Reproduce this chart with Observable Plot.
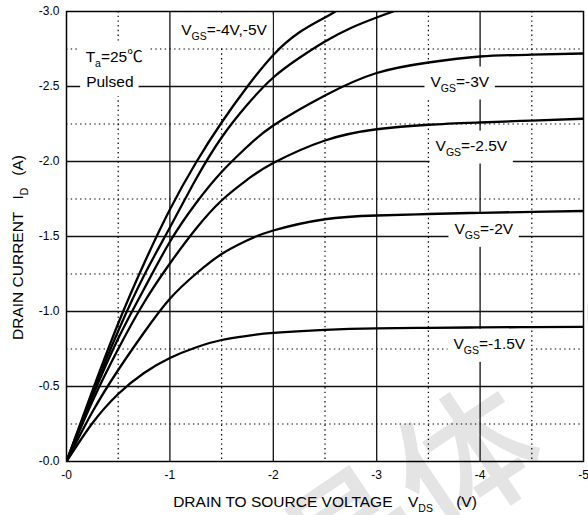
<!DOCTYPE html>
<html>
<head>
<meta charset="utf-8">
<script src="https://cdn.jsdelivr.net/npm/d3@7"></script>
<script src="https://cdn.jsdelivr.net/npm/@observablehq/plot@0.6"></script>
<style>
  body { margin: 0; background: #fff; }
  svg { display: block; }
</style>
</head>
<body>
<div id="chart"></div>
<script>
// ---- axes ----
const xTicks = [0, -1, -2, -3, -4, -5];
const yTicks = [0, -0.5, -1, -1.5, -2, -2.5, -3];
const xMajor = [-1, -2, -3, -4];
const yMajor = [-0.5, -1, -1.5, -2, -2.5];
const xMinor = [-0.5, -1.5, -2.5, -3.5, -4.5];
const yMinor = [-0.25, -0.75, -1.25, -1.75, -2.25, -2.75];

// ---- series (VDS in V, ID in A) ----
const vdsSat = [0, -0.25, -0.5, -0.75, -1, -1.25, -1.5, -1.75, -2, -2.5, -3, -3.5, -4, -4.5, -5];
const id_15 = [0, -0.255, -0.45, -0.59, -0.69, -0.76, -0.81, -0.838, -0.857, -0.877, -0.887, -0.891, -0.894, -0.896, -0.898];
const id_20 = [0, -0.33, -0.61, -0.86, -1.085, -1.25, -1.383, -1.475, -1.54, -1.615, -1.64, -1.65, -1.658, -1.664, -1.67];
const id_25 = [0, -0.40, -0.75, -1.06, -1.32, -1.55, -1.74, -1.88, -1.99, -2.14, -2.215, -2.245, -2.26, -2.273, -2.285];
const id_30 = [0, -0.43, -0.82, -1.15, -1.465, -1.72, -1.93, -2.10, -2.24, -2.44, -2.59, -2.66, -2.70, -2.712, -2.72];
const vds_40 = [0, -0.25, -0.5, -0.75, -1, -1.25, -1.5, -1.75, -2, -2.25, -2.5, -2.75, -3, -3.16];
const id_40 = [0, -0.45, -0.87, -1.24, -1.56, -1.88, -2.16, -2.38, -2.56, -2.69, -2.80, -2.89, -2.96, -3.0];
const vds_50 = [0, -0.25, -0.5, -0.75, -1, -1.25, -1.5, -1.75, -2, -2.25, -2.5, -2.6];
const id_50 = [0, -0.47, -0.92, -1.32, -1.68, -1.99, -2.26, -2.50, -2.71, -2.86, -2.96, -3.0];

// ---- annotations ----
const labelText = ["V_{GS}=-4V,-5V", "T_{a}=25\u2103", "Pulsed", "V_{GS}=-3V", "V_{GS}=-2.5V", "V_{GS}=-2V", "V_{GS}=-1.5V"];
const labelX = [-1.109, -0.185, -0.19, -3.52, -3.569, -3.752, -3.743];
const labelY = [-2.845, -2.662, -2.495, -2.50, -2.073, -1.518, -0.751];
const xTitle = "DRAIN TO SOURCE VOLTAGE\u2003V_{DS}\u2003\u2002(V)";
const yTitle = "DRAIN CURRENT\u2002\u00A0I_{D}\u2002\u00A0(A)";
const watermark = "晶体（";

// build table
const series = [
  {vgs: "-1.5V", vds: vdsSat, id: id_15},
  {vgs: "-2V", vds: vdsSat, id: id_20},
  {vgs: "-2.5V", vds: vdsSat, id: id_25},
  {vgs: "-3V", vds: vdsSat, id: id_30},
  {vgs: "-4V", vds: vds_40, id: id_40},
  {vgs: "-5V", vds: vds_50, id: id_50}
];
const rows = series.flatMap(s => s.vds.map((v, i) => ({vgs: s.vgs, vds: v, id: s.id[i]})));
const labels = labelText.map((t, i) => ({t, x: labelX[i], y: labelY[i]}));

const fx = d => d === 0 ? "-0" : String(d);
const fy = d => d === 0 ? "-0.0" : d.toFixed(1);
const FONT = "'Liberation Sans', Arial, 'Noto Sans CJK SC', sans-serif";

const chart = Plot.plot({
  width: 588,
  height: 515,
  marginLeft: 66,
  marginRight: 5,
  marginTop: 11,
  marginBottom: 54,
  style: {fontFamily: FONT, fontSize: "12px", background: "#fff", color: "#000", overflow: "visible"},
  x: {domain: [0, -5]},
  y: {domain: [0, -3]},
  marks: [
    Plot.ruleX(xMinor, {stroke: "#000", strokeWidth: 1.2, strokeDasharray: "1.4,3.3"}),
    Plot.ruleY(yMinor, {stroke: "#000", strokeWidth: 1.2, strokeDasharray: "1.4,3.3"}),
    Plot.ruleX(xMajor, {stroke: "#111", strokeWidth: 1.3}),
    Plot.ruleY(yMajor, {stroke: "#111", strokeWidth: 1.3}),
    Plot.line(rows, {x: "vds", y: "id", z: "vgs", curve: "natural", stroke: "#000", strokeWidth: 2.3, clip: true}),
    Plot.text(labels, {x: "x", y: "y", text: "t", textAnchor: "start", lineAnchor: "bottom", fontSize: 15.5, fill: "#000"}),
    Plot.frame({stroke: "#000", strokeWidth: 1.5}),
    Plot.axisX(xTicks, {tickSize: 0, tickPadding: 9, tickFormat: fx, fontSize: 12, label: null}),
    Plot.axisY(yTicks, {tickSize: 0, tickPadding: 7, tickFormat: fy, fontSize: 12, label: null}),
    Plot.text([xTitle], {text: d => d, frameAnchor: "bottom", dy: 45, textAnchor: "middle", lineAnchor: "bottom", fontSize: 15.5, fill: "#000"}),
    Plot.text([yTitle], {text: d => d, frameAnchor: "left", dx: -43.5, dy: 11, rotate: -90, textAnchor: "middle", lineAnchor: "bottom", fontSize: 15.5, fill: "#000"})
  ]
});
document.getElementById("chart").append(chart);

const svg = d3.select(chart);
const labelSet = new Set(labelText);
const annotNodes = [];

// subscripts
svg.selectAll("text").each(function () {
  const t = this.textContent;
  if (labelSet.has(t)) annotNodes.push(this);
  if (!t.includes("_{")) return;
  const sel = d3.select(this);
  sel.text(null).style("white-space", "pre");
  const parts = t.split(/(_\{[^}]*\})/);
  let shifted = false;
  for (const p of parts) {
    if (!p) continue;
    if (p.startsWith("_{")) {
      sel.append("tspan").attr("font-size", 10.5).attr("dy", 5).text(p.slice(2, -1));
      shifted = true;
    } else {
      const ts = sel.append("tspan").text(p);
      if (shifted) { ts.attr("dy", -5); shifted = false; }
    }
  }
});

// white clearings behind annotation labels (cover the grid only)
let lineTop = svg.select('g[aria-label="line"]').node();
if (!lineTop) {
  const p = svg.selectAll("path").filter(function () { return this.getAttribute("fill") === "none"; }).node();
  lineTop = p;
  while (lineTop && lineTop.parentNode !== chart) lineTop = lineTop.parentNode;
}
const boxG = svg.insert("g", () => lineTop).attr("class", "label-boxes");
const sr = chart.getBoundingClientRect();
for (const node of annotNodes) {
  const r = node.getBoundingClientRect();
  boxG.append("rect")
    .attr("x", r.left - sr.left - 6)
    .attr("y", r.top - sr.top - 6)
    .attr("width", r.width + 11)
    .attr("height", r.height + 12)
    .attr("fill", "#fff");
}

// faint watermark (behind everything)
const firstG = svg.select("g").node();
svg.insert("text", () => firstG)
  .attr("transform", "translate(462,452) rotate(-34)")
  .attr("text-anchor", "middle")
  .attr("dominant-baseline", "central")
  .attr("font-family", "'Noto Sans CJK SC'")
  .attr("font-weight", 500)
  .attr("font-size", 140)
  .attr("fill", "#e4e4e4")
  .text(watermark);
</script>
</body>
</html>
